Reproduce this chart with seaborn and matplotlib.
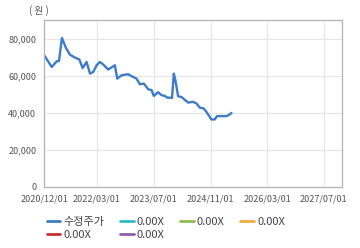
import matplotlib
matplotlib.use("Agg")
import matplotlib.pyplot as plt
import matplotlib.dates as mdates
from matplotlib.lines import Line2D
import seaborn as sns
import pandas as pd

dates = ["2020-12-07", "2021-02-05", "2021-03-20", "2021-04-09", "2021-05-04",
         "2021-06-08", "2021-07-12", "2021-09-01", "2021-09-30", "2021-10-29",
         "2021-12-02", "2021-12-31", "2022-01-28", "2022-02-26", "2022-03-26",
         "2022-04-24", "2022-06-05", "2022-08-02", "2022-08-22", "2022-09-28",
         "2022-11-24", "2022-12-09", "2023-02-04", "2023-03-04", "2023-04-08",
         "2023-05-15", "2023-06-13", "2023-07-02", "2023-08-08", "2023-09-06",
         "2023-10-05", "2023-10-24", "2023-12-06", "2023-12-21", "2024-01-04",
         "2024-01-27", "2024-02-25", "2024-04-22", "2024-06-03", "2024-07-03",
         "2024-07-31", "2024-09-03", "2024-09-26", "2024-11-08", "2024-12-07",
         "2024-12-26", "2025-02-02", "2025-03-17", "2025-04-14", "2025-04-29"]
prices = [70600, 64700, 67700, 68000, 80300,
          74900, 71300, 69500, 68800, 64100,
          67400, 61100, 62000, 65600, 67400,
          66000, 63300, 65600, 58400, 60200,
          60800, 60200, 58400, 55400, 55700,
          52700, 52200, 49100, 51100, 49500,
          49100, 48200, 48000, 61100, 57500,
          48900, 48500, 45500, 45900, 45000,
          42800, 42300, 40500, 36400, 36400,
          38200, 38200, 38200, 39100, 39900]

xticks = ["2020-12-01", "2022-03-01", "2023-07-01", "2024-11-01", "2026-03-01", "2027-07-01"]
yticks = [0, 20000, 40000, 60000, 80000]
legend_labels = ["수정주가", "0.00X", "0.00X", "0.00X", "0.00X", "0.00X"]
legend_colors = ["#3d7cc9", "#2fbcc4", "#8cbd54", "#f0ae40", "#c9302c", "#8e5fa8"]

sns.set_style("white")
plt.rcParams["font.family"] = ["Noto Sans CJK KR", "DejaVu Sans"]

df = pd.DataFrame({"date": pd.to_datetime(dates), "price": prices})

fig = plt.figure(figsize=(3.6, 2.48), dpi=100)
ax = fig.add_axes([44/360, 1-187/248, (342-44)/360, (187-20)/248])
sns.lineplot(data=df, x="date", y="price", ax=ax, color=legend_colors[0], linewidth=1.7)

ax.set_xlim(pd.Timestamp("2020-12-01"), pd.Timestamp("2027-12-05"))
ax.set_ylim(0, 90000)
ax.set_xticks(pd.to_datetime(xticks))
ax.xaxis.set_major_formatter(mdates.DateFormatter("%Y/%m/%d"))
ax.set_yticks(yticks)
ax.set_yticklabels([f"{v:,}" for v in yticks])
ax.set_xlabel("")
ax.set_ylabel("")
ax.grid(True, color="#e6e6e6", linewidth=0.8)
for s in ax.spines.values():
    s.set_color("#b4b4b4")
    s.set_linewidth(0.9)
ax.tick_params(axis="both", labelsize=6.5, colors="#555555", length=3.5, width=0.8,
               pad=2)
ax.tick_params(axis="x", color="#999999")
ax.tick_params(axis="y", color="#999999")

fig.text(29/360, 1-11/248, "( 원 )", fontsize=7, color="#555555", va="center", ha="left")

# legend order arranged for column-major filling: row1 = items 0-3, row2 = items 4-5
order = [0, 4, 1, 5, 2, 3]
handles = [Line2D([0], [0], color=legend_colors[i], linewidth=2) for i in order]
labels = [legend_labels[i] for i in order]
leg = fig.legend(handles, labels, ncol=4, loc="upper left",
                 bbox_to_anchor=(47/360, 1-217/248), frameon=False,
                 fontsize=8, handlelength=1.2, handletextpad=0.3,
                 columnspacing=1.4, labelspacing=0.25, borderaxespad=0,
                 borderpad=0)
for t in leg.get_texts():
    t.set_color("#444444")

fig.savefig("out.png", dpi=100)
